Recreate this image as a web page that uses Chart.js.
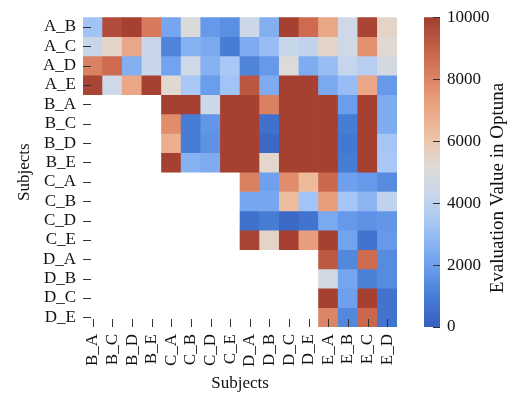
<!DOCTYPE html>
<html>
<head>
<meta charset="utf-8">
<script src="https://cdn.jsdelivr.net/npm/chart.js@4.4.1/dist/chart.umd.min.js"></script>
<style>
  html, body { margin: 0; padding: 0; background: #fff; }
  #wrap { position: relative; width: 511px; height: 394px; }
  #heat { position: absolute; left: 0; top: 0; }
  #cbar { position: absolute; left: 405px; top: 0; }
</style>
</head>
<body>
<div id="wrap">
  <canvas id="heat" width="415" height="394"></canvas>
  <canvas id="cbar" width="106" height="394"></canvas>
</div>
<script>
// heatmap of optuna evaluation values, rows x cols of subject pairs
var colLabels = ['B_A', 'B_C', 'B_D', 'B_E', 'C_A', 'C_B', 'C_D', 'C_E', 'D_A', 'D_B', 'D_C', 'D_E', 'E_A', 'E_B', 'E_C', 'E_D'];
var rowLabels = ['A_B', 'A_C', 'A_D', 'A_E', 'B_A', 'B_C', 'B_D', 'B_E', 'C_A', 'C_B', 'C_D', 'C_E', 'D_A', 'D_B', 'D_C', 'D_E'];
var _ = null;
var rowA_B = [3200, 9600, 9900, 8300, 2200, 5000, 1800, 1500, 4400, 2500, 9900, 8700, 7000, 4500, 9800, 5500];
var rowA_C = [4300, 5500, 7000, 4300, 1200, 2600, 2300, 1000, 2400, 3000, 4300, 4100, 5500, 4500, 7700, 5300];
var rowA_D = [8100, 8700, 2500, 4300, 2100, 4500, 2600, 3400, 1200, 1800, 5100, 2400, 3000, 4200, 3800, 4700];
var rowA_E = [9800, 4500, 7000, 9900, 5300, 3400, 1900, 3200, 9300, 2400, 9900, 9900, 2300, 3000, 7000, 1800];
var rowB_A = [_, _, _, _, 9900, 9900, 4400, 9900, 9900, 8100, 9900, 9900, 9900, 1900, 9900, 2400];
var rowB_C = [_, _, _, _, 7800, 1000, 1700, 9900, 9900, 600, 9900, 9900, 9900, 1000, 9900, 2400];
var rowB_D = [_, _, _, _, 6800, 1000, 1600, 9900, 9900, 300, 9900, 9900, 9900, 800, 9900, 3300];
var rowB_E = [_, _, _, _, 9900, 2600, 2400, 9900, 9900, 5400, 9900, 9900, 9900, 1000, 9900, 3400];
var rowC_A = [_, _, _, _, _, _, _, _, 8100, 2000, 7800, 6400, 8800, 2000, 1800, 1400];
var rowC_B = [_, _, _, _, _, _, _, _, 2200, 2200, 6300, 3200, 7300, 3300, 2700, 4100];
var rowC_D = [_, _, _, _, _, _, _, _, 600, 1000, 300, 700, 2300, 1800, 1600, 1700];
var rowC_E = [_, _, _, _, _, _, _, _, 9800, 5500, 9900, 7300, 9900, 2100, 700, 1800];
var rowD_A = [_, _, _, _, _, _, _, _, _, _, _, _, 9200, 1300, 8700, 1400];
var rowD_B = [_, _, _, _, _, _, _, _, _, _, _, _, 4700, 2200, 1100, 1400];
var rowD_C = [_, _, _, _, _, _, _, _, _, _, _, _, 9900, 2000, 9900, 700];
var rowD_E = [_, _, _, _, _, _, _, _, _, _, _, _, 8000, 1300, 8800, 700];
var rows = [rowA_B, rowA_C, rowA_D, rowA_E, rowB_A, rowB_C, rowB_D, rowB_E,
            rowC_A, rowC_B, rowC_D, rowC_E, rowD_A, rowD_B, rowD_C, rowD_E];
var vMin = 0, vMax = 10000;
var cbarTicks = [0, 2000, 4000, 6000, 8000, 10000];

// coolwarm-ish map as it looks in the picture
var cmap = [
  [0.00, [53, 96, 190]],
  [0.10, [72, 125, 214]],
  [0.20, [110, 160, 238]],
  [0.33, [165, 198, 246]],
  [0.44, [204, 216, 232]],
  [0.52, [223, 219, 215]],
  [0.62, [238, 192, 163]],
  [0.75, [231, 152, 117]],
  [0.87, [205, 106, 80]],
  [1.00, [163, 62, 47]]
];
function colorAt(t) {
  t = Math.max(0, Math.min(1, t));
  for (var k = 1; k < cmap.length; k++) {
    if (t <= cmap[k][0]) {
      var a = cmap[k - 1], b = cmap[k];
      var f = (t - a[0]) / (b[0] - a[0]);
      var c = a[1].map(function (x, m) { return Math.round(x + (b[1][m] - x) * f); });
      return 'rgb(' + c.join(',') + ')';
    }
  }
  return 'rgb(' + cmap[cmap.length - 1][1].join(',') + ')';
}
function valColor(v) { return v == null ? 'rgba(0,0,0,0)' : colorAt((v - vMin) / (vMax - vMin)); }

Chart.defaults.font.family = "'Liberation Serif', 'DejaVu Serif', serif";
Chart.defaults.font.size = 17;
Chart.defaults.color = '#111';

// inward tick marks like the original figure
var innerTicks = {
  id: 'innerTicks',
  afterDatasetsDraw: function (chart) {
    var c = chart.ctx, a = chart.chartArea;
    c.save();
    c.strokeStyle = '#333';
    c.lineWidth = 1;
    c.beginPath();
    var xs = chart.scales.x, ys = chart.scales.y;
    if (xs && xs.options.display !== false) {
      for (var i = 0; i < xs.ticks.length; i++) {
        var x = Math.round(xs.getPixelForTick(i)) + 0.5;
        c.moveTo(x, a.bottom); c.lineTo(x, a.bottom - 8);
      }
    }
    if (ys.options.position === 'right') {
      ys.ticks.forEach(function (t) {
        var y = Math.round(ys.getPixelForValue(t.value)) + 0.5;
        c.moveTo(a.right, y); c.lineTo(a.right - 7, y);
      });
    } else {
      ys.ticks.forEach(function (t) {
        var y = Math.round(ys.getPixelForValue(t.value)) + 0.5;
        c.moveTo(a.left, y); c.lineTo(a.left + 8, y);
      });
    }
    c.stroke();
    c.restore();
  }
};

var datasets = rows.map(function (vals, i) {
  return {
    label: rowLabels[i],
    data: vals.map(function (v) { return v == null ? null : [i - 0.5, i + 0.5]; }),
    backgroundColor: vals.map(valColor),
    borderWidth: 0,
    barPercentage: 1,
    categoryPercentage: 1,
    grouped: false
  };
});

new Chart(document.getElementById('heat'), {
  type: 'bar',
  data: { labels: colLabels, datasets: datasets },
  plugins: [innerTicks],
  options: {
    responsive: false,
    animation: false,
    layout: { padding: { left: 8, top: 12, right: 12, bottom: 0 } },
    plugins: { legend: { display: false }, tooltip: { enabled: false } },
    scales: {
      x: {
        grid: { display: false, drawTicks: false },
        border: { display: false },
        ticks: { minRotation: 90, maxRotation: 90, padding: 7, autoSkip: false },
        title: { display: true, text: 'Subjects', padding: { top: 0, bottom: 0 } },
        afterFit: function (s) { s.height = 67; }
      },
      y: {
        reverse: true,
        min: -0.5,
        max: 15.5,
        grid: { display: false, drawTicks: false },
        border: { display: false },
        afterBuildTicks: function (s) { s.ticks = rowLabels.map(function (l, i) { return { value: i }; }); },
        ticks: { padding: 7, autoSkip: false, callback: function (v) { return rowLabels[v]; } },
        title: { display: true, text: 'Subjects', padding: { top: 6, bottom: 0 } },
        afterFit: function (s) { s.width = 75; }
      }
    }
  }
});

// colour bar
var cbarTitle = {
  id: 'cbarTitle',
  afterDraw: function (chart) {
    var c = chart.ctx;
    c.save();
    c.translate(93, 188);
    c.rotate(-Math.PI / 2);
    c.font = "19px 'Liberation Serif'";
    c.fillStyle = '#111';
    c.textAlign = 'center';
    c.textBaseline = 'middle';
    c.fillText('Evaluation Value in Optuna', 0, 0);
    c.restore();
  }
};

new Chart(document.getElementById('cbar'), {
  type: 'bar',
  data: {
    labels: [''],
    datasets: [{
      data: [[vMin, vMax]],
      borderWidth: 0,
      barPercentage: 1,
      categoryPercentage: 1,
      backgroundColor: function (ctx) {
        var area = ctx.chart.chartArea;
        if (!area) return '#ccc';
        var g = ctx.chart.ctx.createLinearGradient(0, area.bottom, 0, area.top);
        cmap.forEach(function (s) { g.addColorStop(s[0], 'rgb(' + s[1].join(',') + ')'); });
        return g;
      }
    }]
  },
  plugins: [innerTicks, cbarTitle],
  options: {
    responsive: false,
    animation: false,
    layout: { padding: { left: 19, top: 12, right: 0, bottom: 67 } },
    plugins: { legend: { display: false }, tooltip: { enabled: false } },
    scales: {
      x: { display: false },
      y: {
        position: 'right',
        min: vMin,
        max: vMax,
        grid: { display: false, drawTicks: false },
        border: { display: false },
        afterBuildTicks: function (s) { s.ticks = cbarTicks.map(function (v) { return { value: v }; }); },
        ticks: { padding: 7, callback: function (v) { return String(v); } },
        afterFit: function (s) { s.width = 71; }
      }
    }
  }
});
</script>
</body>
</html>
